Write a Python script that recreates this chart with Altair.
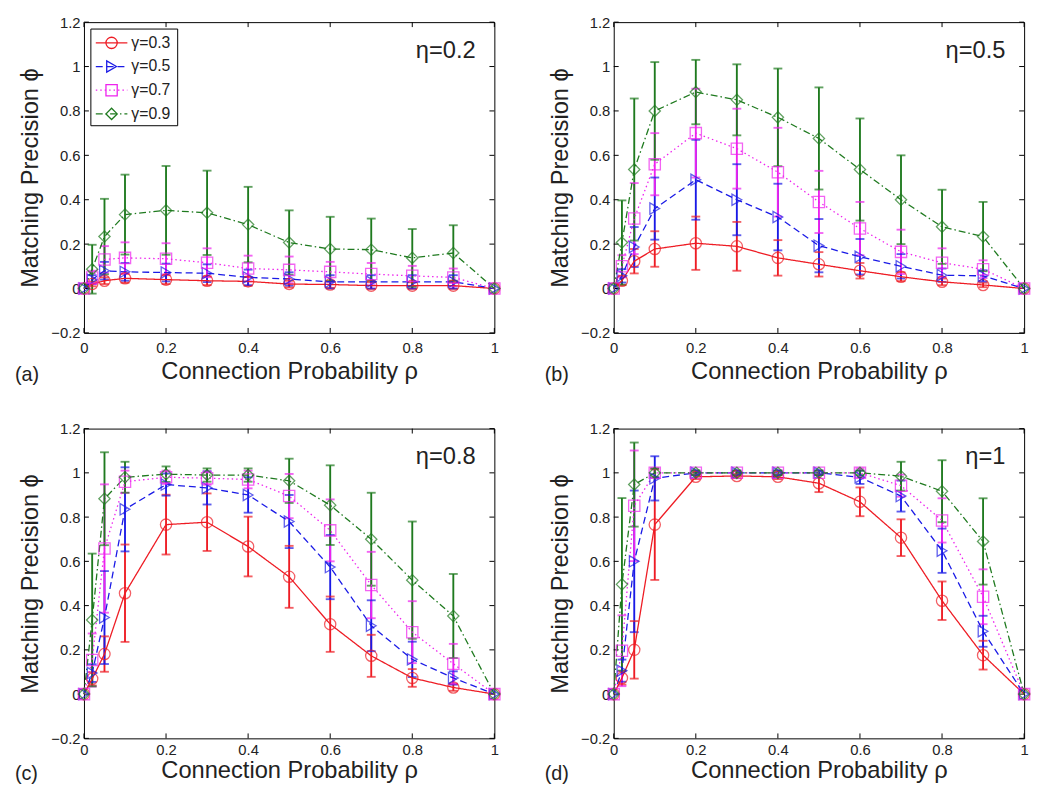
import altair as alt
import pandas as pd

# ---------------- data ----------------
rho = [0, 0.02, 0.05, 0.1, 0.2, 0.3, 0.4, 0.5, 0.6, 0.7, 0.8, 0.9, 1.0]
series = ["γ=0.3", "γ=0.5", "γ=0.7", "γ=0.9"]
panel_tags = ["(a)", "(b)", "(c)", "(d)"]
eta_tags = ["η=0.2", "η=0.5", "η=0.8", "η=1"]
x_ticks = [0, 0.2, 0.4, 0.6, 0.8, 1.0]
y_ticks = [-0.2, 0, 0.2, 0.4, 0.6, 0.8, 1.0, 1.2]

# panel (a)  eta = 0.2
a_g03 = [0, 0.02, 0.035, 0.046, 0.04, 0.035, 0.032, 0.02, 0.018, 0.013, 0.013, 0.013, 0]
a_g03_sd = [0, 0.01, 0.015, 0.02, 0.02, 0.02, 0.02, 0.015, 0.015, 0.015, 0.015, 0.015, 0]
a_g05 = [0, 0.04, 0.08, 0.075, 0.072, 0.069, 0.05, 0.043, 0.03, 0.03, 0.03, 0.03, 0]
a_g05_sd = [0, 0.02, 0.04, 0.04, 0.04, 0.04, 0.035, 0.03, 0.03, 0.03, 0.03, 0.03, 0]
a_g07 = [0, 0.05, 0.131, 0.138, 0.134, 0.116, 0.09, 0.084, 0.075, 0.065, 0.057, 0.05, 0]
a_g07_sd = [0, 0.03, 0.06, 0.07, 0.07, 0.065, 0.058, 0.06, 0.045, 0.05, 0.045, 0.04, 0]
a_g09 = [0, 0.087, 0.234, 0.333, 0.352, 0.341, 0.288, 0.207, 0.178, 0.175, 0.138, 0.16, 0]
a_g09_sd = [0, 0.11, 0.17, 0.18, 0.2, 0.19, 0.17, 0.145, 0.145, 0.14, 0.13, 0.125, 0]

# panel (b)  eta = 0.5
b_g03 = [0, 0.035, 0.123, 0.178, 0.204, 0.19, 0.138, 0.109, 0.08, 0.053, 0.03, 0.016, 0]
b_g03_sd = [0, 0.02, 0.055, 0.08, 0.12, 0.11, 0.08, 0.055, 0.035, 0.02, 0.015, 0.01, 0]
b_g05 = [0, 0.057, 0.187, 0.36, 0.49, 0.40, 0.322, 0.193, 0.143, 0.10, 0.06, 0.057, 0]
b_g05_sd = [0, 0.03, 0.09, 0.14, 0.18, 0.16, 0.15, 0.12, 0.08, 0.055, 0.03, 0.025, 0]
b_g07 = [0, 0.10, 0.315, 0.56, 0.70, 0.63, 0.524, 0.39, 0.27, 0.165, 0.116, 0.087, 0]
b_g07_sd = [0, 0.05, 0.16, 0.14, 0.2, 0.18, 0.2, 0.14, 0.12, 0.1, 0.065, 0.04, 0]
b_g09 = [0, 0.207, 0.536, 0.80, 0.885, 0.85, 0.771, 0.676, 0.536, 0.40, 0.278, 0.234, 0]
b_g09_sd = [0, 0.19, 0.32, 0.22, 0.145, 0.16, 0.22, 0.23, 0.23, 0.2, 0.167, 0.156, 0]

# panel (c)  eta = 0.8
c_g03 = [0, 0.069, 0.181, 0.456, 0.766, 0.777, 0.667, 0.53, 0.316, 0.173, 0.073, 0.03, 0]
c_g03_sd = [0, 0.03, 0.08, 0.22, 0.135, 0.13, 0.135, 0.14, 0.125, 0.095, 0.04, 0.015, 0]
c_g05 = [0, 0.095, 0.346, 0.835, 0.947, 0.932, 0.90, 0.78, 0.574, 0.309, 0.157, 0.073, 0]
c_g05_sd = [0, 0.04, 0.21, 0.19, 0.05, 0.075, 0.08, 0.12, 0.145, 0.115, 0.08, 0.03, 0]
c_g07 = [0, 0.154, 0.658, 0.96, 0.98, 0.976, 0.97, 0.895, 0.74, 0.493, 0.28, 0.137, 0]
c_g07_sd = [0, 0.12, 0.29, 0.05, 0.03, 0.03, 0.04, 0.1, 0.14, 0.15, 0.14, 0.09, 0]
c_g09 = [0, 0.335, 0.883, 0.98, 0.994, 0.99, 0.99, 0.964, 0.854, 0.70, 0.515, 0.353, 0]
c_g09_sd = [0, 0.3, 0.21, 0.07, 0.035, 0.03, 0.03, 0.1, 0.18, 0.21, 0.265, 0.19, 0]

# panel (d)  eta = 1
d_g03 = [0, 0.073, 0.2, 0.766, 0.982, 0.986, 0.982, 0.953, 0.869, 0.707, 0.422, 0.176, 0]
d_g03_sd = [0, 0.03, 0.13, 0.25, 0.01, 0.01, 0.01, 0.04, 0.065, 0.083, 0.087, 0.065, 0]
d_g05 = [0, 0.106, 0.6, 0.975, 1.0, 1.0, 1.0, 1.0, 0.98, 0.895, 0.648, 0.284, 0]
d_g05_sd = [0, 0.05, 0.32, 0.1, 0.01, 0.01, 0.01, 0.01, 0.03, 0.07, 0.1, 0.07, 0]
d_g07 = [0, 0.196, 0.851, 1.0, 1.0, 1.0, 1.0, 1.0, 1.0, 0.942, 0.785, 0.44, 0]
d_g07_sd = [0, 0.16, 0.25, 0.02, 0.01, 0.01, 0.01, 0.01, 0.02, 0.05, 0.1, 0.124, 0]
d_g09 = [0, 0.496, 0.947, 1.0, 1.0, 1.0, 1.0, 1.0, 1.0, 0.985, 0.917, 0.69, 0]
d_g09_sd = [0, 0.39, 0.19, 0.02, 0.01, 0.01, 0.01, 0.01, 0.01, 0.065, 0.14, 0.195, 0]

panels = [
    [(a_g03, a_g03_sd), (a_g05, a_g05_sd), (a_g07, a_g07_sd), (a_g09, a_g09_sd)],
    [(b_g03, b_g03_sd), (b_g05, b_g05_sd), (b_g07, b_g07_sd), (b_g09, b_g09_sd)],
    [(c_g03, c_g03_sd), (c_g05, c_g05_sd), (c_g07, c_g07_sd), (c_g09, c_g09_sd)],
    [(d_g03, d_g03_sd), (d_g05, d_g05_sd), (d_g07, d_g07_sd), (d_g09, d_g09_sd)],
]

# ---------------- style ----------------
W = 416
FONT = "Liberation Sans"
colors = ["#ee1c24", "#1a1ae6", "#ee22ee", "#1f7a1f"]
dashes = [[1, 0], [7, 4], [1.5, 3], [7, 3, 1.5, 3]]
shapes = ["circle", "triangle-right", "square", "diamond"]
XT = "Connection Probability ρ"
YT = "Matching Precision ϕ"

color_sc = alt.Scale(domain=series, range=colors)
dash_sc = alt.Scale(domain=series, range=dashes)
shape_sc = alt.Scale(domain=series, range=shapes)
xs = alt.Scale(domain=[0, 1], nice=False, zero=False)
ys = alt.Scale(domain=[-0.2, 1.2], nice=False, zero=False)


def panel(idx, H, lp, tp, tag_dy, with_legend=False):
    def xe(field):
        return alt.X(field, scale=xs, title=XT,
                     axis=alt.Axis(values=x_ticks, format="~g", labelFlush=False,
                                   labelPadding=lp, titlePadding=tp))

    def ye(field):
        return alt.Y(field, scale=ys, title=YT,
                     axis=alt.Axis(values=y_ticks, format="~g"))

    rows = []
    for s_i, (m, sd) in enumerate(panels[idx]):
        for r, v, e in zip(rho, m, sd):
            rows.append({"rho": r, "phi": v, "lo": v - e, "hi": v + e,
                         "sd": e, "series": series[s_i], "order": s_i})
    df = pd.DataFrame(rows)
    base = alt.Chart(df)
    col = alt.Color("series:N", scale=color_sc, legend=None)

    bars = base.mark_rule(strokeWidth=1.9).encode(
        x=xe("rho:Q"), y=ye("lo:Q"), y2="hi:Q", color=col,
    )
    caps = base.transform_filter("datum.sd > 0").transform_fold(
        ["lo", "hi"], as_=["end", "val"]
    ).mark_tick(orient="horizontal", size=9, thickness=1.9).encode(
        x=xe("rho:Q"), y=ye("val:Q"), color=col,
    )
    lines = base.mark_line(strokeWidth=1.3).encode(
        x=xe("rho:Q"), y=ye("phi:Q"), color=col,
        strokeDash=alt.StrokeDash("series:N", scale=dash_sc, legend=None),
    )
    pts = base.mark_point(filled=False, size=130, strokeWidth=1.3).encode(
        x=xe("rho:Q"), y=ye("phi:Q"), color=col,
        shape=alt.Shape("series:N", scale=shape_sc, legend=None),
    )

    # inward tick marks on all four sides
    xt = alt.Chart(pd.DataFrame({"tv": x_ticks}))
    yt = alt.Chart(pd.DataFrame({"tv": y_ticks}))
    tick_kw = dict(color="black", strokeWidth=1)
    t_bottom = xt.mark_rule(**tick_kw).encode(
        x=xe("tv:Q"), y=alt.value(H), y2=alt.value(H - 5))
    t_top = xt.mark_rule(**tick_kw).encode(
        x=xe("tv:Q"), y=alt.value(0), y2=alt.value(5))
    t_left = yt.mark_rule(**tick_kw).encode(
        y=ye("tv:Q"), x=alt.value(0), x2=alt.value(5))
    t_right = yt.mark_rule(**tick_kw).encode(
        y=ye("tv:Q"), x=alt.value(W), x2=alt.value(W - 5))

    one = alt.Chart(pd.DataFrame({"k": [0]}))
    eta = one.mark_text(align="right", baseline="middle", fontSize=24,
                        font=FONT, color="#222").encode(
        x=alt.value(W - 19), y=alt.value(29), text=alt.value(eta_tags[idx]))
    tag = one.mark_text(align="left", baseline="middle", fontSize=20,
                        font=FONT, color="#222").encode(
        x=alt.value(-70), y=alt.value(H + tag_dy), text=alt.value(panel_tags[idx]))

    layers = [t_bottom, t_top, t_left, t_right, bars, caps, lines, pts, eta, tag]

    if with_legend:
        box = one.mark_rect(fill="white", stroke="black", strokeWidth=1).encode(
            x=alt.value(7), x2=alt.value(95), y=alt.value(7), y2=alt.value(105))
        layers.append(box)
        for i, name in enumerate(series):
            yy = 21 + 24 * i
            layers.append(one.mark_rule(strokeWidth=1.3, color=colors[i],
                                        strokeDash=dashes[i]).encode(
                x=alt.value(12), x2=alt.value(44), y=alt.value(yy)))
            layers.append(one.mark_point(filled=False, size=130, strokeWidth=1.3,
                                         color=colors[i], shape=shapes[i],
                                         opacity=1).encode(
                x=alt.value(28), y=alt.value(yy)))
            layers.append(one.mark_text(align="left", baseline="middle",
                                        fontSize=16, font=FONT,
                                        color="#222").encode(
                x=alt.value(48), y=alt.value(yy), text=alt.value(name)))

    return alt.layer(*layers).properties(width=W, height=H)


row1 = alt.hconcat(panel(0, 315, 8, 4, 43, with_legend=True),
                   panel(1, 315, 8, 4, 43), spacing=41)
row2 = alt.hconcat(panel(2, 314, 4, 2, 36),
                   panel(3, 314, 4, 2, 36), spacing=41)

chart = alt.vconcat(row1, row2, spacing=35).properties(
    padding={"left": 6, "top": 1, "right": 0, "bottom": 0}
).configure_view(
    stroke="black", strokeWidth=1
).configure_axis(
    domain=False, ticks=False, grid=False,
    labelFont=FONT, labelFontSize=15, labelColor="#222",
    titleFont=FONT, titleFontSize=24, titleFontWeight="normal", titleColor="#222",
).configure_axisY(
    labelPadding=4, titlePadding=8,
)

chart.save("out.html", embed_options={"renderer": "svg", "actions": False})
